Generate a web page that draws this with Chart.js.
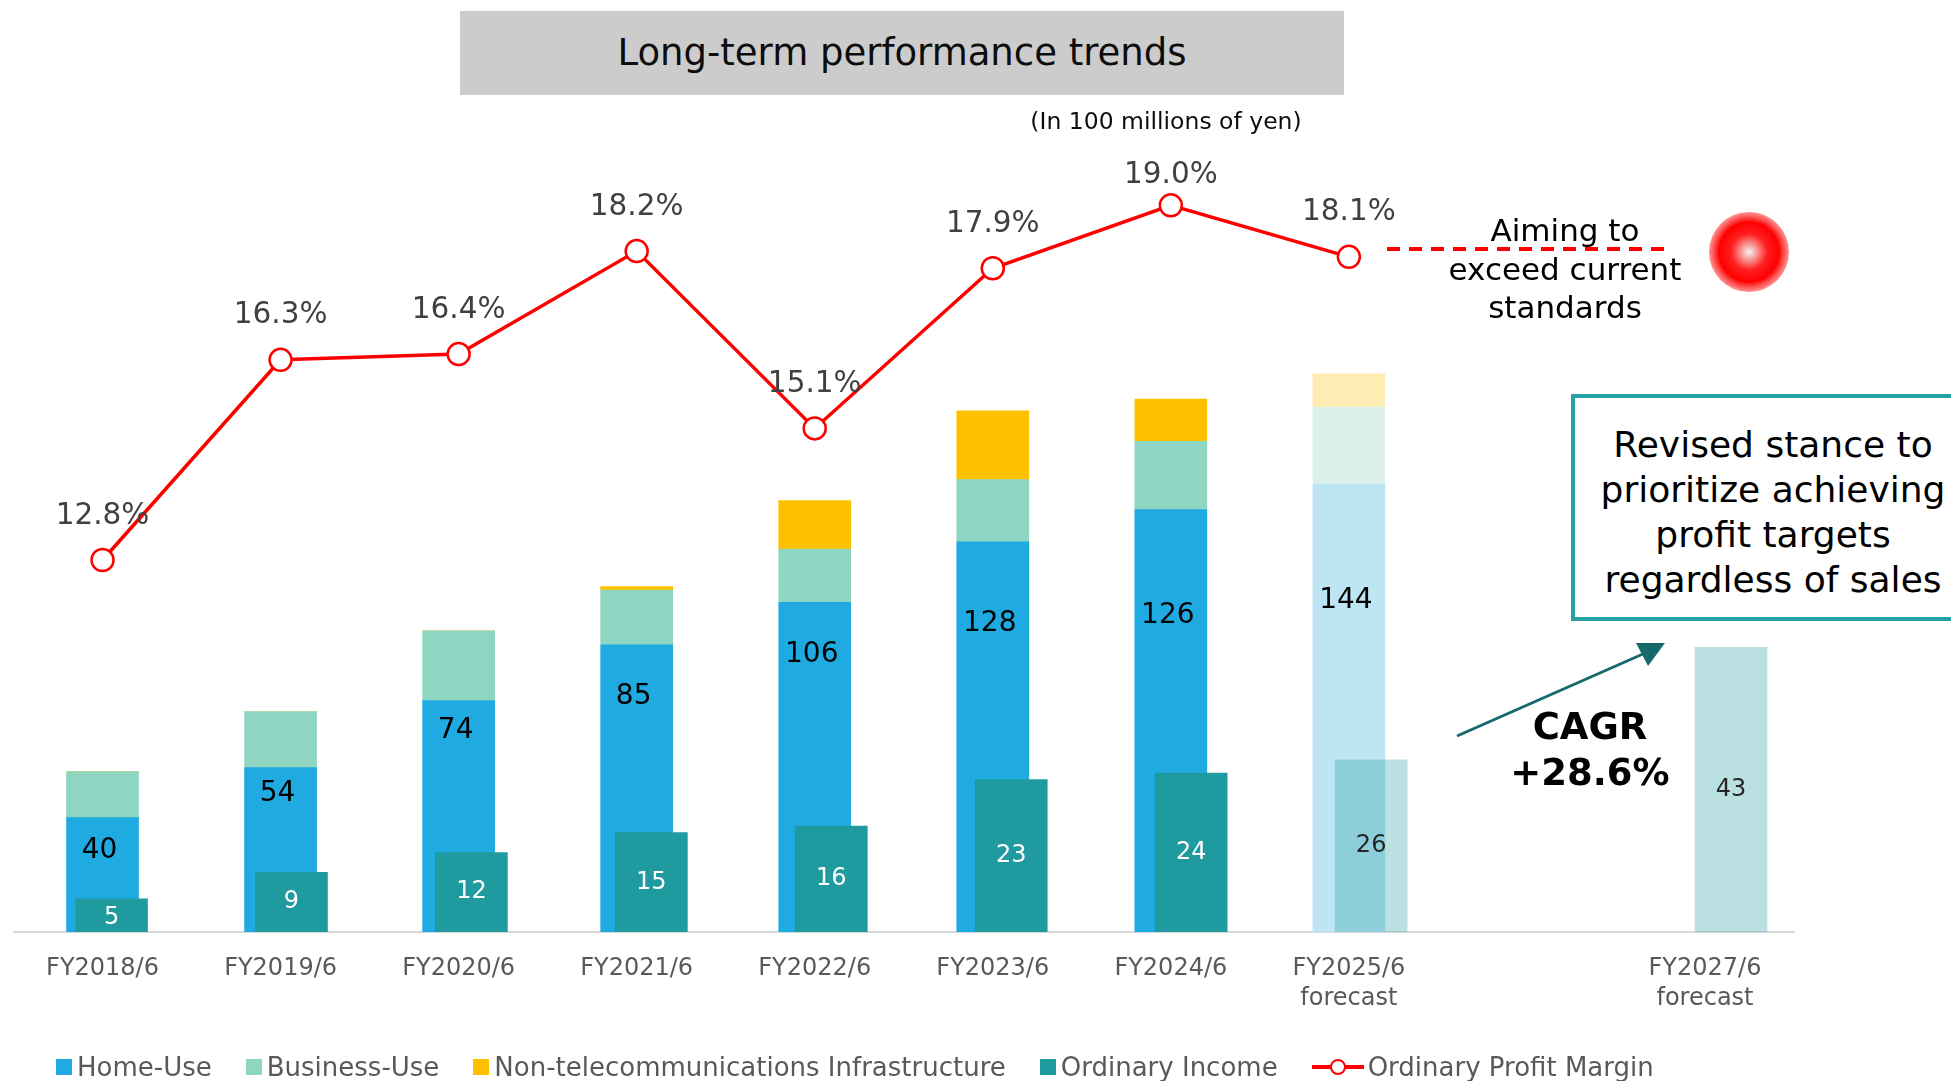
<!DOCTYPE html>
<html>
<head>
<meta charset="utf-8">
<script src="https://cdn.jsdelivr.net/npm/chart.js@4.4.0/dist/chart.umd.min.js"></script>
<style>
  html, body { margin: 0; padding: 0; background: #fff; overflow: hidden; }
  #wrap { position: relative; width: 1951px; height: 1081px; overflow: hidden; font-family: "DejaVu Sans", Verdana, sans-serif; }
  #chart { position: absolute; left: 0; top: 0; }
  .title { position: absolute; left: 460px; top: 11px; width: 884px; height: 84px; background: #cccccc; color: #0d0d0d; font-size: 37px; line-height: 84px; text-align: center; }
  .unit { position: absolute; left: 966px; width: 400px; top: 107px; text-align: center; font-size: 23.5px; color: #0d0d0d; }
  .aim { position: absolute; left: 1415px; width: 300px; top: 211px; font-size: 31px; line-height: 38.5px; text-align: center; color: #000; }
  .stance-box { position: absolute; left: 1571px; top: 394px; width: 440px; height: 227px; border: 4px solid #27a0a2; box-sizing: border-box; background: #fff; }
  .stance { position: absolute; left: 1571px; width: 404px; top: 422px; font-size: 36px; line-height: 45px; text-align: center; color: #000; white-space: nowrap; }
  .cagr { position: absolute; left: 1490px; width: 200px; top: 704px; font-size: 37px; line-height: 46px; font-weight: bold; text-align: center; color: #000; }
  #legend { position: absolute; left: 56px; top: 1050px; height: 34px; display: flex; align-items: center; font-size: 26px; color: #595959; }
  .lg-item { display: flex; align-items: center; margin-right: 34px; white-space: nowrap; }
  .lg-box { width: 16px; height: 16px; margin-right: 5px; }
  .lg-line { position: relative; width: 52px; height: 16px; margin-right: 4px; }
  .lg-line:before { content: ""; position: absolute; left: 0; right: 0; top: 6px; height: 4px; background: #ff0000; }
  .lg-line:after { content: ""; position: absolute; left: 18px; top: 0; width: 12px; height: 12px; border: 2px solid #ff0000; border-radius: 50%; background: #fff; }
</style>
</head>
<body>
<div id="wrap">
  <canvas id="chart" width="1951" height="1081"></canvas>
  <div class="title">Long-term performance trends</div>
  <div class="unit">(In 100 millions of yen)</div>
  <div class="aim">Aiming to<br>exceed current<br>standards</div>
  <div class="stance-box"></div>
  <div class="stance">Revised stance to<br>prioritize achieving<br>profit targets<br>regardless of sales</div>
  <div class="cagr">CAGR<br>+28.6%</div>
  <div id="legend"></div>
</div>
<script>
// 데이터
const categories = ['FY2018/6', 'FY2019/6', 'FY2020/6', 'FY2021/6', 'FY2022/6', 'FY2023/6', 'FY2024/6', ['FY2025/6', 'forecast'], '', ['FY2027/6', 'forecast']];
const homeUse = [28.1, 40.4, 56.9, 70.6, 81.0, 95.9, 103.8, 110.1, null, null];
const businessUse = [11.3, 13.8, 17.1, 13.4, 13.1, 15.3, 16.8, 18.9, null, null];
const infrastructure = [0, 0, 0, 0.9, 11.9, 16.9, 10.4, 8.2, null, null];
const salesLabels = [40, 54, 74, 85, 106, 128, 126, 144, null, null];
const ordinaryIncome = [5, 9, 12, 15, 16, 23, 24, 26, null, 43];
const profitMargin = [12.8, 16.3, 16.4, 18.2, 15.1, 17.9, 19.0, 18.1, null, null];
const isForecast = [false, false, false, false, false, false, false, true, false, true];

const FONT = '"DejaVu Sans", Verdana, sans-serif';

const colorsFor = (normal, light) => isForecast.map(f => f ? light : normal);

// 라벨 그리기
// where the sales label sits, as a share of the home-use bar height
const salesLabelLift = [0.71, 0.84, 0.87, 0.82, 0.84, 0.79, 0.75, 0.74];

const valueLabels = {
    id: 'valueLabels',
    afterDatasetsDraw(chart) {
        const ctx = chart.ctx;
        ctx.save();
        ctx.textAlign = 'center';
        ctx.textBaseline = 'middle';

        // sales totals inside the home-use bar
        const homeMeta = chart.getDatasetMeta(0);
        ctx.font = '28px ' + FONT;
        ctx.fillStyle = '#000';
        homeMeta.data.forEach((el, i) => {
            if (salesLabels[i] == null) return;
            const y = el.base - salesLabelLift[i] * (el.base - el.y);
            ctx.fillText(String(salesLabels[i]), el.x - 3, y);
        });

        // ordinary income
        const oiMeta = chart.getDatasetMeta(3);
        ctx.font = '24px ' + FONT;
        oiMeta.data.forEach((el, i) => {
            const raw = chart.data.datasets[3].data[i];
            if (!raw || raw.y == null) return;
            ctx.fillStyle = isForecast[raw.x] ? '#262626' : '#ffffff';
            const h = el.base - el.y;
            const y = h < 40 ? el.base - 14 : (el.y + el.base) / 2;
            ctx.fillText(String(raw.y), el.x, y);
        });

        // margin
        const lineMeta = chart.getDatasetMeta(4);
        ctx.font = '29.5px ' + FONT;
        ctx.fillStyle = '#404040';
        lineMeta.data.forEach((el, i) => {
            if (profitMargin[i] == null) return;
            const lift = i === 6 ? 30 : 44;
            ctx.fillText(profitMargin[i].toFixed(1) + '%', el.x, el.y - lift);
        });
        ctx.restore();
    }
};

// dashed target line, red dot, CAGR arrow
const annotations = {
    id: 'annotations',
    afterDraw(chart) {
        const ctx = chart.ctx;
        ctx.save();
        ctx.strokeStyle = '#ff0000';
        ctx.lineWidth = 4;
        ctx.setLineDash([13, 9]);
        ctx.beginPath();
        ctx.moveTo(1387, 249);
        ctx.lineTo(1668, 249);
        ctx.stroke();
        ctx.setLineDash([]);

        const g = ctx.createRadialGradient(1749, 252, 0, 1749, 252, 40);
        g.addColorStop(0, '#f4f4f4');
        g.addColorStop(0.45, '#ff2020');
        g.addColorStop(0.75, '#ff0000');
        g.addColorStop(1, 'rgba(255,110,110,0.75)');
        ctx.fillStyle = g;
        ctx.beginPath();
        ctx.arc(1749, 252, 40, 0, Math.PI * 2);
        ctx.fill();

        ctx.strokeStyle = '#17696b';
        ctx.fillStyle = '#17696b';
        ctx.lineWidth = 3;
        ctx.beginPath();
        ctx.moveTo(1457, 736);
        ctx.lineTo(1652, 650);
        ctx.stroke();
        ctx.beginPath();
        ctx.moveTo(1665, 643);
        ctx.lineTo(1636, 643);
        ctx.lineTo(1648, 666);
        ctx.closePath();
        ctx.fill();
        ctx.restore();
    }
};

const ctx = document.getElementById('chart').getContext('2d');
const chart = new Chart(ctx, {
    type: 'bar',
    data: {
        labels: categories,
        datasets: [
            {
                label: 'Home-Use',
                data: homeUse,
                backgroundColor: colorsFor('#1fabe1', '#bde5f4'),
                stack: 'sales', xAxisID: 'x', yAxisID: 'y',
                barThickness: 72, grouped: false, order: 2
            },
            {
                label: 'Business-Use',
                data: businessUse,
                backgroundColor: colorsFor('#8ed6c1', '#dcf1ea'),
                stack: 'sales', xAxisID: 'x', yAxisID: 'y',
                barThickness: 72, grouped: false, order: 2
            },
            {
                label: 'Non-telecommunications Infrastructure',
                data: infrastructure,
                backgroundColor: colorsFor('#ffc000', '#ffecb3'),
                stack: 'sales', xAxisID: 'x', yAxisID: 'y',
                barThickness: 72, grouped: false, order: 2
            },
            {
                label: 'Ordinary Income',
                data: ordinaryIncome.map((v, i) => ({ x: i, y: v })).filter(p => p.y != null),
                backgroundColor: ordinaryIncome.map((v, i) => i).filter(i => ordinaryIncome[i] != null)
                    .map(i => isForecast[i] ? 'rgba(31,154,158,0.31)' : '#1f9b9f'),
                xAxisID: 'xOI', yAxisID: 'y2',
                barThickness: 72, grouped: false, order: 1
            },
            {
                label: 'Ordinary Profit Margin',
                type: 'line',
                data: profitMargin,
                borderColor: '#ff0000',
                borderWidth: 3.5,
                pointRadius: 11,
                pointBorderWidth: 2.5,
                pointBackgroundColor: '#ffffff',
                pointBorderColor: '#ff0000',
                xAxisID: 'x', yAxisID: 'y3',
                order: 0
            }
        ]
    },
    options: {
        responsive: false,
        animation: false,
        devicePixelRatio: 1,
        layout: { padding: { left: 12, right: 157, top: 130, bottom: 0 } },
        plugins: {
            legend: { display: false },
            tooltip: { enabled: false }
        },
        scales: {
            x: {
                type: 'category',
                stacked: true,
                offset: true,
                grid: { display: false, drawTicks: false },
                border: { display: true, color: '#d9d9d9', width: 2 },
                ticks: {
                    color: '#595959',
                    font: { family: FONT, size: 24, lineHeight: 1.25 },
                    padding: 22,
                    maxRotation: 0,
                    autoSkip: false
                },
                afterFit(scale) { scale.height = 149; }
            },
            xOI: { type: 'linear', display: false, min: -0.5447, max: 9.35, offset: false },
            y: { stacked: true, display: false, min: 0, max: 197.1 },
            y2: { display: false, min: 0, max: 121.1 },
            y3: { display: false, min: 6.297, max: 20.317 }
        }
    },
    plugins: [valueLabels, annotations]
});

// 범례
const legend = document.getElementById('legend');
chart.data.datasets.forEach(ds => {
    const item = document.createElement('div');
    item.className = 'lg-item';
    const mark = document.createElement('span');
    if (ds.type === 'line') {
        mark.className = 'lg-line';
    } else {
        mark.className = 'lg-box';
        mark.style.background = Array.isArray(ds.backgroundColor) ? ds.backgroundColor[0] : ds.backgroundColor;
    }
    item.appendChild(mark);
    item.appendChild(document.createTextNode(ds.label));
    legend.appendChild(item);
});
</script>
</body>
</html>
